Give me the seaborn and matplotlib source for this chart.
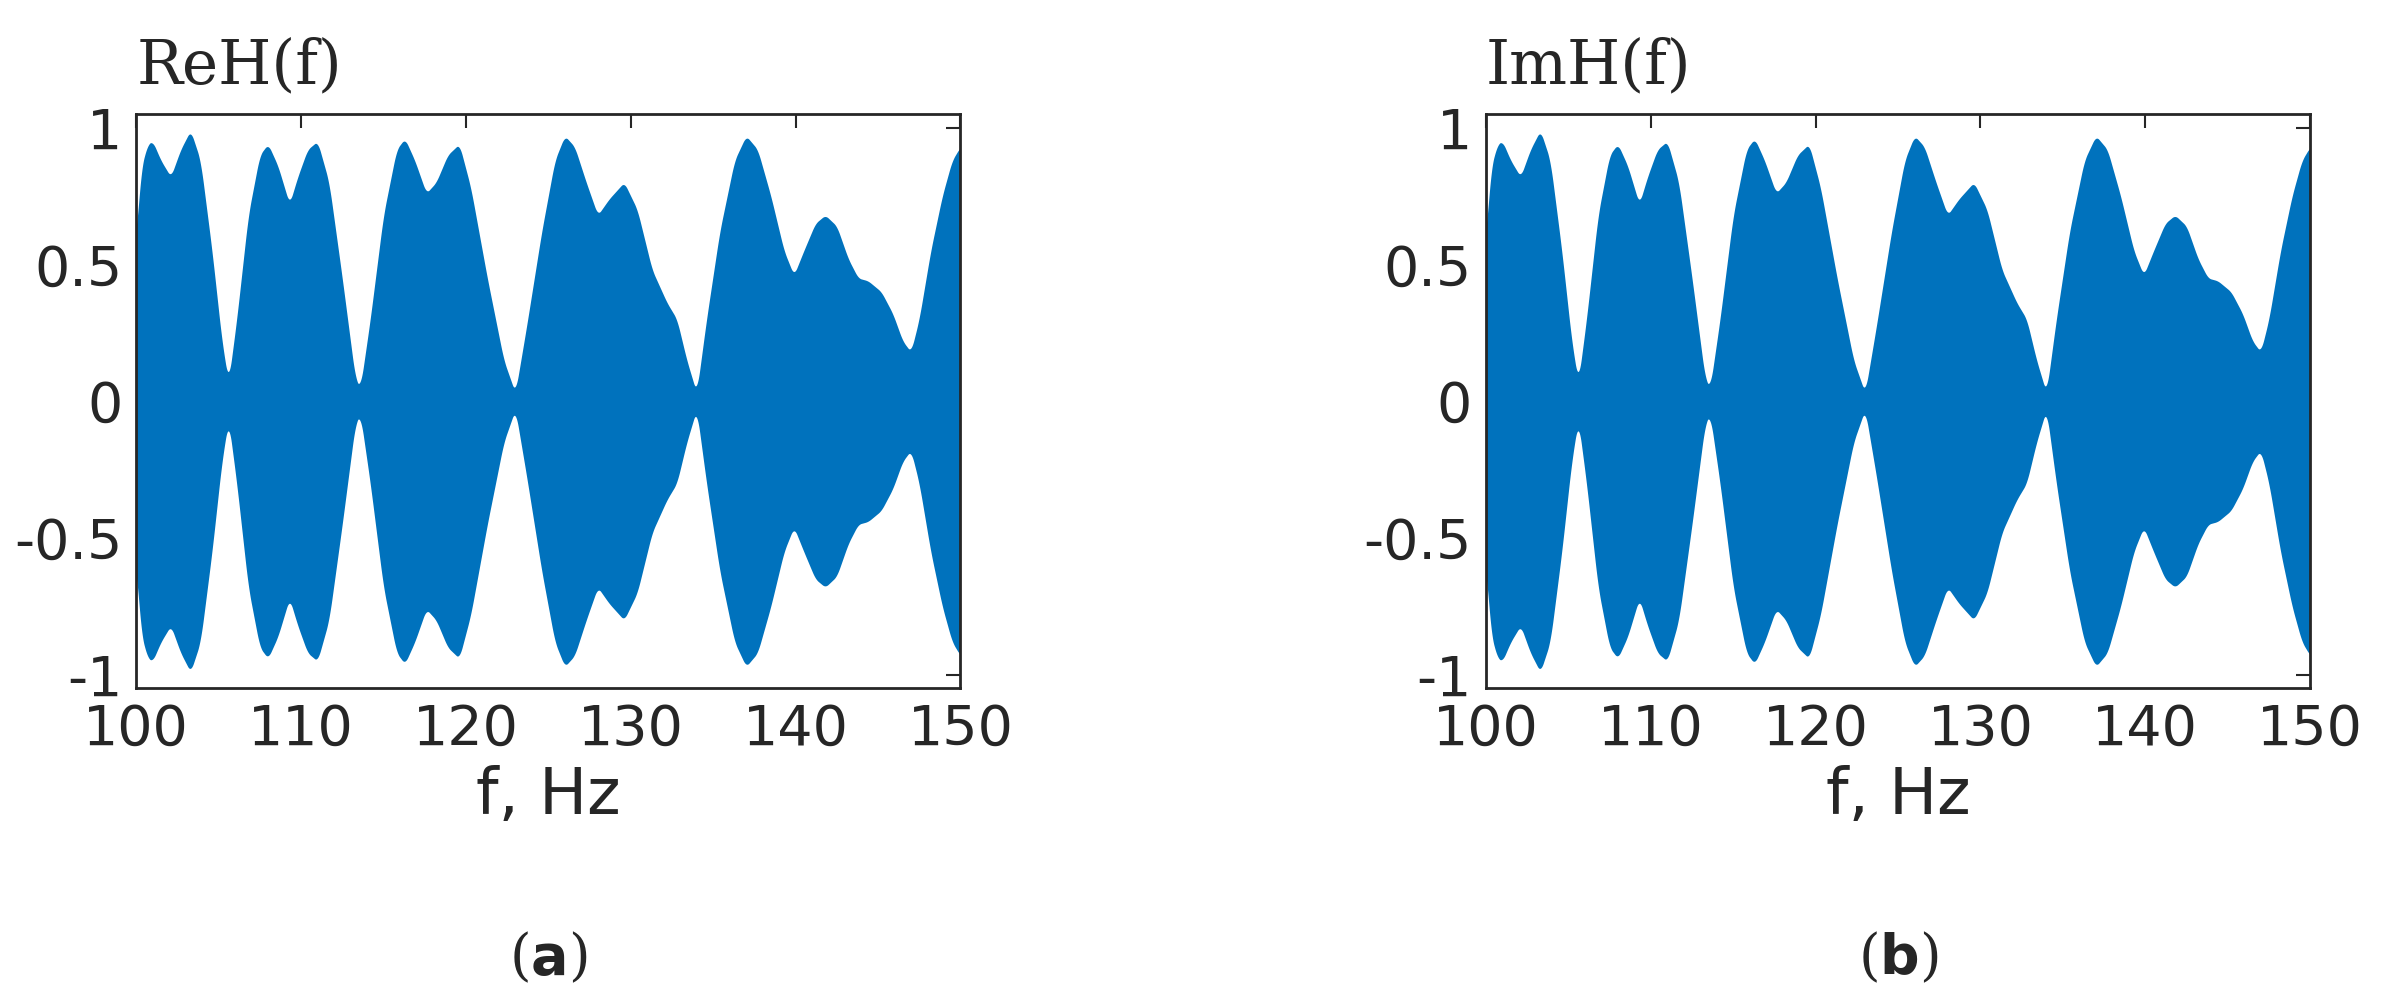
import numpy as np
import matplotlib
matplotlib.use("Agg")
import matplotlib.pyplot as plt
import seaborn as sns

# envelope of the oscillating response (f in Hz, amplitude)
freq = [100.0, 100.3, 100.7, 101.0, 101.5, 102.1, 102.7, 103.3, 103.9, 104.6, 105.2, 105.6,
        106.1, 106.8, 107.5, 108.0, 108.6, 109.3, 109.8, 110.4, 111.0, 111.7, 112.5, 113.3, 113.6,
        114.2, 115.0, 115.8, 116.3, 116.9, 117.6, 118.2, 118.9, 119.6, 120.3, 121.3, 122.3, 123.0,
        123.7, 124.6, 125.4, 126.0, 126.6, 127.3, 128.0, 128.7, 129.6, 130.4, 131.3, 132.2, 132.8,
        133.4, 134.0, 134.6, 135.4, 136.3, 137.0, 137.7, 138.5, 139.3, 139.9, 140.5, 141.2, 141.8,
        142.5, 143.2, 143.8, 144.4, 145.2, 145.9, 146.5, 147.0, 147.5, 148.2, 148.9, 149.5, 150.0]
amp = [0.60, 0.85, 0.94, 0.95, 0.88, 0.82, 0.92, 0.99, 0.88, 0.55, 0.22, 0.07,
       0.30, 0.68, 0.90, 0.94, 0.86, 0.72, 0.82, 0.92, 0.95, 0.80, 0.45, 0.08, 0.05,
       0.30, 0.68, 0.92, 0.96, 0.88, 0.76, 0.80, 0.90, 0.94, 0.78, 0.45, 0.15, 0.03,
       0.28, 0.62, 0.88, 0.97, 0.93, 0.80, 0.68, 0.74, 0.80, 0.70, 0.48, 0.36, 0.30,
       0.15, 0.03, 0.30, 0.62, 0.88, 0.97, 0.92, 0.75, 0.55, 0.46, 0.55, 0.65, 0.68,
       0.64, 0.52, 0.45, 0.44, 0.40, 0.32, 0.22, 0.18, 0.30, 0.55, 0.75, 0.88, 0.93]

titles = ["ReH(f)", "ImH(f)"]
tags = ["a", "b"]
xticks = [100, 110, 120, 130, 140, 150]
yticks = [-1, -0.5, 0, 0.5, 1]
ytick_labels = ["-1", "-0.5", "0", "0.5", "1"]
blue = "#0072BD"

sns.set_style("white")
plt.rcParams["font.family"] = ["DejaVu Sans"]

# light smoothing of the read-off envelope so the lobes look rounded
fine = np.linspace(100, 150, 2001)
env = np.interp(fine, freq, amp)
k = np.ones(15) / 15
env = np.convolve(np.pad(env, 7, mode="edge"), k, mode="valid")

fig = plt.figure(figsize=(23.89, 10.08), dpi=100)
lefts = [0.057, 0.622]
for i in range(2):
    ax = fig.add_axes([lefts[i], 0.317, 0.345, 0.57])
    ax.fill_between(fine, -env, env, color=blue, linewidth=0)
    ax.set_xlim(100, 150)
    ax.set_ylim(-1.05, 1.05)
    ax.set_xticks(xticks)
    ax.set_yticks(yticks)
    ax.set_yticklabels(ytick_labels)
    ax.tick_params(direction="in", labelsize=40, length=10, width=1.5, top=True, right=True, pad=10)
    for s in ax.spines.values():
        s.set_linewidth(2)
        s.set_color("#262626")
    ax.set_xlabel("f, Hz", fontsize=46, labelpad=6)
    ax.text(0.0, 1.03, titles[i], transform=ax.transAxes, fontsize=44,
            family="DejaVu Serif", ha="left", va="bottom")
    ax.text(0.5, -0.47, "(" + r"$\mathbf{" + tags[i] + "}$" + ")", transform=ax.transAxes,
            fontsize=40, family="DejaVu Serif", ha="center", va="center")

fig.savefig("out.png", dpi=100)
